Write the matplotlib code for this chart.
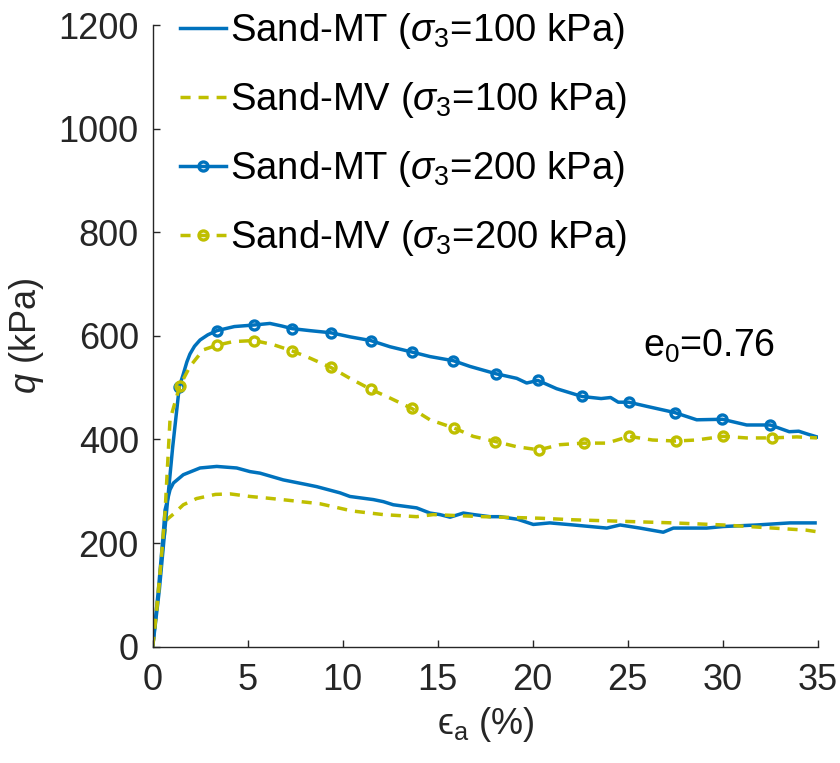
import numpy as np
import matplotlib
matplotlib.use("Agg")
import matplotlib.pyplot as plt

plt.rcParams["font.family"] = ["Liberation Sans", "DejaVu Sans"]
plt.rcParams["mathtext.fontset"] = "custom"
plt.rcParams["mathtext.rm"] = "Liberation Sans"
plt.rcParams["mathtext.it"] = "Liberation Sans:italic"
plt.rcParams["mathtext.fallback"] = "stixsans"

# Deviator stress q (kPa) vs axial strain eps_a (%)
mt100_x = [0, 0.3, 0.55, 0.65, 0.91, 1.09, 1.61, 2.49, 3.37, 4.42, 5.12, 5.65, 6.87,
           8.1, 8.63, 9.86, 10.38, 11.61, 12.14, 12.66, 13.89, 14.59, 15.12, 15.65,
           16.35, 16.9, 17.75, 18.28, 19.2, 20.03, 20.9, 22.14, 23.9, 24.6, 25.64,
           26.87, 27.4, 29.16, 30.03, 31.79, 33.54, 34.86]
mt100_q = [0, 110, 215, 264, 303, 316, 332, 345, 348, 345, 338, 335, 322,
           313, 309, 297, 290, 284, 280, 274, 268, 258, 255, 250,
           258, 255, 251, 251, 246, 236, 239, 235, 229, 235, 229,
           221, 229, 229, 232, 235, 239, 239]

mv100_x = [0, 0.3, 0.55, 0.73, 1.09, 1.61, 2.31, 3.3, 4.07, 5.12, 5.99, 7.05, 8.8,
           10.5, 12.14, 13.89, 14.77, 17.4, 20.4, 22.14, 24.77, 27.4, 30.03, 32.66,
           34.4, 34.95]
mv100_q = [0, 110, 200, 245, 256, 274, 286, 294, 295, 290, 287, 283, 276,
           262, 255, 251, 255, 251, 248, 245, 242, 239, 235, 229,
           225, 222]

mt200_x = [0, 0.35, 0.7, 1.05, 1.4, 1.6, 1.8, 1.96, 2.2, 2.49, 2.9, 3.37, 4.3, 5.34,
           6.17, 6.8, 7.33, 8.3, 9.38, 10.4, 11.47, 12.49, 13.62, 14.6, 15.83, 16.7,
           18.05, 19.16, 19.68, 20.27, 21.26, 22.6, 23.6, 24.1, 24.5, 25.05, 26.0,
           27.47, 28.63, 29.98, 31.26, 32.5, 33.5, 34.0, 34.5, 34.96]
mt200_q = [0, 110, 250, 385, 502, 525, 550, 565, 580, 592, 602, 610, 618, 621,
           624, 619, 614, 610, 606, 598, 591, 579, 569, 560, 552, 541,
           527, 518, 509, 514, 498, 483, 479, 481, 472, 472, 464,
           452, 438, 439, 428, 428, 415, 416, 410, 405]
mt200_marks = [1.4, 3.37, 5.34, 7.33, 9.38, 11.47, 13.62, 15.83, 18.05, 20.27,
               22.6, 25.05, 27.47, 29.98, 32.5]

mv200_x = [0, 0.3, 0.65, 0.91, 1.42, 1.96, 2.66, 3.38, 4.24, 5.34, 6.35, 7.34, 8.28,
           9.38, 10.38, 11.47, 12.49, 13.63, 14.59, 15.87, 16.87, 18.04, 19.16,
           20.32, 21.44, 22.68, 23.9, 25.08, 26.3, 27.53, 28.6, 30.03, 31.26, 32.57,
           33.9, 34.96]
mv200_q = [0, 100, 260, 438, 503, 541, 573, 582, 589, 591, 583, 571, 557,
           539, 518, 497, 480, 460, 438, 422, 406, 396, 386,
           380, 390, 393, 393, 406, 399, 397, 399, 406, 403, 403,
           405, 403]
mv200_marks = [1.42, 3.38, 5.34, 7.34, 9.38, 11.47, 13.63, 15.87, 18.04, 20.32,
               22.68, 25.08, 27.53, 30.03, 32.57]

labels = [r"Sand-MT ($\sigma_3$=100 kPa)", r"Sand-MV ($\sigma_3$=100 kPa)",
          r"Sand-MT ($\sigma_3$=200 kPa)", r"Sand-MV ($\sigma_3$=200 kPa)"]

blue = "#0072BD"
olive = "#BFBF00"
lw = 2.5
dash = (2.9, 2.3)


def mark_idx(xs, marks):
    xs = np.asarray(xs)
    return [int(np.argmin(np.abs(xs - m))) for m in marks]


fig = plt.figure(figsize=(8.4, 7.63), dpi=100)
ax = fig.add_axes([0.1818, 0.1524, 0.7917, 0.8148])

ax.plot(mt100_x, mt100_q, color=blue, lw=lw, label=labels[0])
ax.plot(mv100_x, mv100_q, color=olive, lw=lw, dashes=dash, label=labels[1])
ax.plot(mt200_x, mt200_q, color=blue, lw=lw, marker="o", ms=6.5, mew=2.4,
        mfc="none", markevery=mark_idx(mt200_x, mt200_marks), label=labels[2])
ax.plot(mv200_x, mv200_q, color=olive, lw=lw, dashes=dash, marker="o", ms=6.5,
        mew=2.4, mfc="none", markevery=mark_idx(mv200_x, mv200_marks),
        label=labels[3])

ax.set_xlim(0, 35)
ax.set_ylim(0, 1200)
ax.set_xticks(np.arange(0, 36, 5))
ax.set_yticks(np.arange(0, 1201, 200))
for side in ("top", "right"):
    ax.spines[side].set_visible(False)
for side in ("left", "bottom"):
    ax.spines[side].set_color("#262626")
    ax.spines[side].set_linewidth(1.0)
ax.tick_params(direction="in", length=5, width=1.0, color="#262626",
               labelcolor="#262626", labelsize=26)
ax.tick_params(axis="x", pad=12)
ax.tick_params(axis="y", pad=10)

ax.set_xlabel("\u03f5$_{\\rm a}$ (%)", fontsize=26, color="#262626", labelpad=5)
ax.set_ylabel(r"$q$ (kPa)", fontsize=26, color="#262626", labelpad=9)

ax.text(25.8, 560, r"e$_0$=0.76", fontsize=27, color="black",
        ha="left", va="baseline")

fig.legend(loc="upper left", bbox_to_anchor=(180 / 840, 1 - 11 / 763),
           frameon=False, fontsize=27.5, handlelength=1.2, handletextpad=0.12,
           labelspacing=0.76, borderpad=0, borderaxespad=0)

fig.savefig("out.png", dpi=100)
